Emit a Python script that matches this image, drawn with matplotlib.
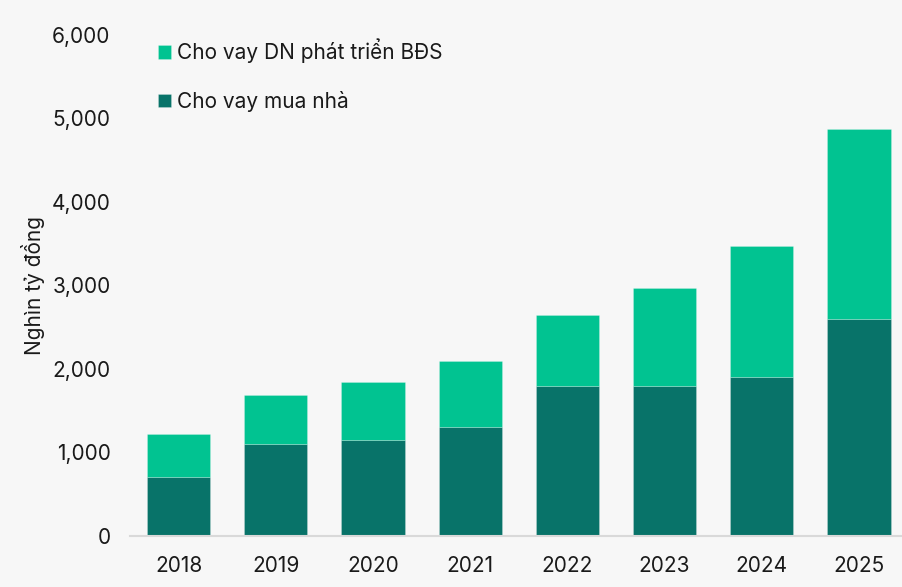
import matplotlib
matplotlib.use('Agg')
import matplotlib.pyplot as plt
from matplotlib.ticker import FuncFormatter

plt.rcParams['font.family'] = ['Inter', 'DejaVu Sans']
plt.rcParams['font.size'] = 15

# ---------- data (nghìn tỷ đồng) ----------
years = ['2018', '2019', '2020', '2021', '2022', '2023', '2024', '2025']
mua_nha = [704, 1099, 1140, 1303, 1787, 1787, 1902, 2601]
dn_bds = [512, 584, 702, 787, 857, 1177, 1565, 2276]

DARK = '#087369'
LIGHT = '#01c391'
BG = '#f7f7f7'

fig = plt.figure(figsize=(9.03, 5.87), dpi=100, facecolor=BG)
ax = fig.add_axes([130 / 903, 1 - 535.5 / 587, 777.6 / 903, 500.5 / 587])
ax.set_facecolor(BG)

x = range(len(years))
ax.bar(x, mua_nha, width=0.65, color=DARK, label='Cho vay mua nhà',
       edgecolor='#ffffff40', linewidth=0.6, zorder=2)
ax.bar(x, dn_bds, width=0.65, bottom=mua_nha, color=LIGHT,
       label='Cho vay DN phát triển BĐS',
       edgecolor='#ffffff40', linewidth=0.6, zorder=2)

ax.set_xlim(-0.5, len(years) - 0.5)
ax.set_ylim(0, 6000)
ax.set_yticks(range(0, 6001, 1000))
ax.yaxis.set_major_formatter(FuncFormatter(lambda v, p: f'{int(v):,}'))
ax.set_xticks(list(x))
ax.set_xticklabels(years)
ax.tick_params(axis='both', length=0, colors='#1a1a1a', labelsize=15)
ax.tick_params(axis='y', pad=14)
ax.tick_params(axis='x', pad=15)

for s in ['top', 'right', 'left']:
    ax.spines[s].set_visible(False)
ax.spines['bottom'].set_color('#d9d9d9')
ax.spines['bottom'].set_linewidth(1.5)

ax.set_ylabel('Nghìn tỷ đồng', fontsize=15, color='#1a1a1a', labelpad=5)

handles, labels = ax.get_legend_handles_labels()
leg = ax.legend(handles[::-1], labels[::-1], loc='upper left',
                bbox_to_anchor=(0.012, 1.03), frameon=False,
                handlelength=0.6, handleheight=0.6, handletextpad=0.3,
                labelspacing=1.3, fontsize=15)
for t in leg.get_texts():
    t.set_color('#1a1a1a')

fig.savefig('out.png', dpi=100, facecolor=BG)
